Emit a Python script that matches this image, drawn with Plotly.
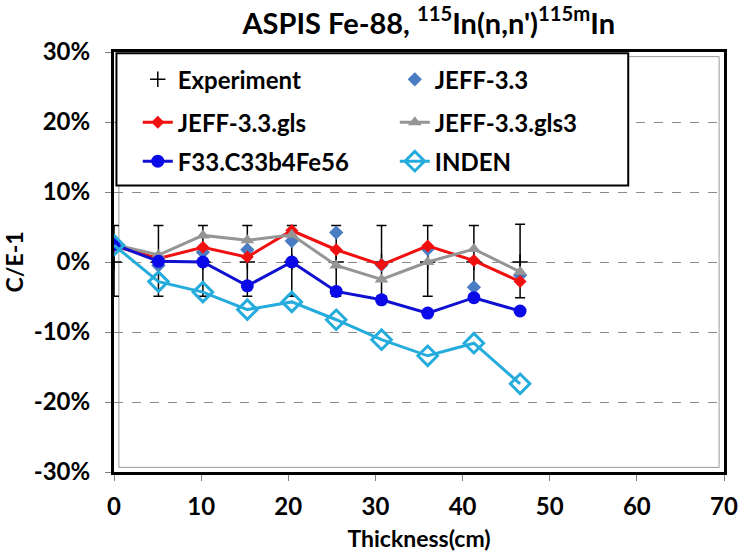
import plotly.graph_objects as go

# thickness positions (cm)
thickness = [0, 5.1, 10.2, 15.3, 20.4, 25.5, 30.7, 36.0, 41.3, 46.6]

# C/E-1 in percent
experiment = [0, 0, 0, 0, 0, 0, 0, 0, 0, 0]
exp_err_plus = [5.2, 5.2, 5.2, 5.2, 5.2, 5.2, 5.2, 5.2, 5.2, 5.4]
exp_err_minus = [4.9, 4.9, 4.9, 4.9, 4.9, 4.9, 4.9, 4.9, 4.9, 5.1]
jeff33 = [2.5, -0.5, 1.4, 1.75, 3.0, 4.2, -0.4, 1.85, -3.6, -1.9]
jeff33_gls = [2.3, 0.5, 2.1, 0.7, 4.5, 1.75, -0.4, 2.3, 0.2, -2.8]
jeff33_gls3 = [2.5, 1.0, 3.8, 3.1, 3.9, -0.5, -2.5, 0.0, 1.85, -1.4]
f33 = [2.5, 0.1, 0.0, -3.4, 0.0, -4.2, -5.4, -7.3, -5.1, -7.0]
inden = [2.4, -2.8, -4.3, -6.8, -5.7, -8.25, -11.1, -13.4, -11.6, -17.4]

x_ticks = [0, 10, 20, 30, 40, 50, 60, 70]
y_ticks = [-30, -20, -10, 0, 10, 20, 30]
y_tick_labels = ["-30%", "-20%", "-10%", "0%", "10%", "20%", "30%"]

FONT = "Lato"

fig = go.Figure()

fig.add_trace(go.Scatter(
    x=thickness, y=experiment, name="Experiment", mode="markers",
    marker=dict(symbol="cross-thin", size=11, line=dict(color="black", width=1.5), color="black"),
    error_y=dict(type="data", symmetric=False, array=exp_err_plus, arrayminus=exp_err_minus,
                 color="black", thickness=1.5, width=5),
    legend="legend"))
fig.add_trace(go.Scatter(
    x=thickness, y=jeff33, name="JEFF-3.3", mode="markers",
    marker=dict(symbol="diamond", size=11, color="#4A7CC4"),
    legend="legend"))
fig.add_trace(go.Scatter(
    x=thickness, y=jeff33_gls, name="JEFF-3.3.gls", mode="lines+markers",
    line=dict(color="#F01010", width=3),
    marker=dict(symbol="diamond", size=10, color="#F01010"),
    legend="legend2"))
fig.add_trace(go.Scatter(
    x=thickness, y=jeff33_gls3, name="JEFF-3.3.gls3", mode="lines+markers",
    line=dict(color="#959595", width=3),
    marker=dict(symbol="triangle-up", size=12, color="#959595"),
    legend="legend2"))
fig.add_trace(go.Scatter(
    x=thickness, y=f33, name="F33.C33b4Fe56", mode="lines+markers",
    line=dict(color="#1010D0", width=3),
    marker=dict(symbol="circle", size=13, color="#0A0AE8"),
    legend="legend3"))
fig.add_trace(go.Scatter(
    x=thickness, y=inden, name="INDEN", mode="lines+markers",
    line=dict(color="#25ACDD", width=3),
    marker=dict(symbol="diamond-open", size=15, color="#25ACDD", line=dict(width=3)),
    legend="legend3"))

leg_common = dict(orientation="h", xref="paper", x=0.039, xanchor="left",
                  yanchor="middle", bgcolor="rgba(0,0,0,0)", borderwidth=0,
                  entrywidth=212, entrywidthmode="pixels",
                  font=dict(family=FONT, size=24, color="black", weight="bold"))

fig.update_layout(
    width=743, height=556,
    margin=dict(l=114, r=19, t=52, b=84),
    paper_bgcolor="white", plot_bgcolor="white",
    font=dict(family=FONT, color="black"),
    title=dict(text="ASPIS Fe-88, <sup>115</sup>In(n,n')<sup>115m</sup>In",
               x=0.516, xref="paper", xanchor="center",
               y=0.958, yref="container", yanchor="middle",
               font=dict(family=FONT, size=29, color="black", weight="bold")),
    legend=dict(leg_common, y=0.934),
    legend2=dict(leg_common, y=0.832),
    legend3=dict(leg_common, y=0.739),
    shapes=[
        # thin grey inner frame of the plot area
        dict(type="rect", xref="paper", yref="paper", x0=0.008, x1=0.992,
             y0=0.011, y1=0.989, line=dict(color="#9a9a9a", width=1), layer="below"),
        # legend box
        dict(type="rect", xref="paper", yref="paper", x0=0.004, x1=0.843,
             y0=0.682, y1=0.997, line=dict(color="black", width=2),
             fillcolor="white", layer="above"),
    ],
)

fig.update_xaxes(
    range=[0, 70], tickvals=x_ticks, showgrid=False, zeroline=False, automargin=False,
    showline=True, linecolor="black", linewidth=3, mirror=True,
    ticks="outside", ticklen=6, tickcolor="#808080", ticklabelstandoff=5,
    tickfont=dict(family=FONT, size=24, weight="bold"),
    title=dict(text="Thickness(cm)", font=dict(family=FONT, size=23, weight="bold"), standoff=13))
fig.update_yaxes(
    range=[-30, 30], tickvals=y_ticks, ticktext=y_tick_labels, automargin=False,
    showgrid=True, gridcolor="#8a8a8a", griddash="dash", gridwidth=1, zeroline=False,
    showline=True, linecolor="black", linewidth=3, mirror=True,
    ticks="outside", ticklen=6, tickcolor="#808080", ticklabelstandoff=10,
    tickfont=dict(family=FONT, size=24, weight="bold"),
    title=dict(text="C/E-1", font=dict(family=FONT, size=23, weight="bold"), standoff=7))

# remove the default page margin so the figure sits at the window's corner
fig.write_html("out.html", config={"displayModeBar": False},
               post_script="document.body.style.margin='0';")
